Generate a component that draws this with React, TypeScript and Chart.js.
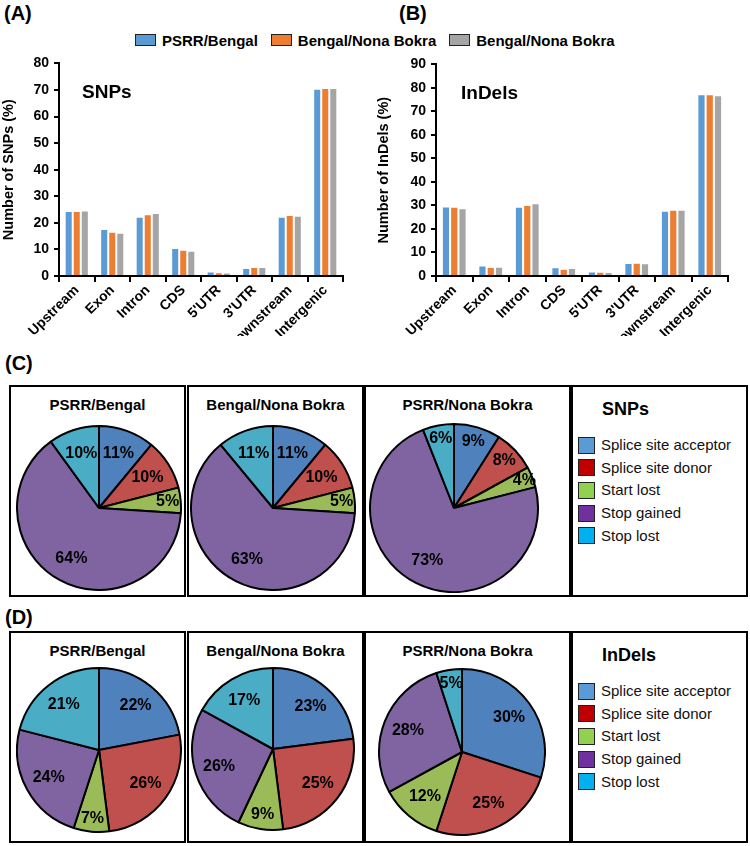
import React, { useEffect, useRef } from 'react';
import { Chart, registerables } from 'chart.js';
Chart.register(...registerables);

const FONT = '"Liberation Sans", Arial, Helvetica, sans-serif';

// ---- Bar chart data ----
const categories = ['Upstream', 'Exon', 'Intron', 'CDS', "5'UTR", "3'UTR", 'Downstream', 'Intergenic'];
const seriesNames = ['PSRR/Bengal', 'Bengal/Nona Bokra', 'Bengal/Nona Bokra'];
const seriesColors = ['#5B9BD5', '#ED7D31', '#A5A5A5'];

const snpPsrrBengal = [24.1, 17.3, 21.9, 10.2, 1.3, 2.6, 21.9, 70.1];
const snpBengalNona = [24.1, 16.3, 22.9, 9.5, 1.0, 3.0, 22.6, 70.4];
const snpPsrrNona = [24.3, 15.9, 23.3, 9.1, 0.9, 3.0, 22.3, 70.4];

const indelPsrrBengal = [29.1, 4.0, 29.0, 3.3, 1.5, 5.1, 27.3, 76.9];
const indelBengalNona = [29.0, 3.4, 29.8, 2.7, 1.4, 5.2, 27.7, 76.9];
const indelPsrrNona = [28.4, 3.5, 30.5, 3.0, 1.3, 5.0, 27.7, 76.5];

const snpYMax = 80;
const indelYMax = 90;

// ---- Pie chart data ----
const pieCategories = ['Splice site acceptor', 'Splice site donor', 'Start lost', 'Stop gained', 'Stop lost'];
const pieSliceColors = ['#4F81BD', '#C0504D', '#9BBB59', '#8064A2', '#4BACC6'];
const pieLegendColors = ['#5B9BD5', '#C00000', '#92D050', '#7030A0', '#00B0F0'];
const pieTitles = ['PSRR/Bengal', 'Bengal/Nona Bokra', 'PSRR/Nona Bokra'];

const snpPiePsrrBengal = [11, 10, 5, 64, 10];
const snpPieBengalNona = [11, 10, 5, 63, 11];
const snpPiePsrrNona = [9, 8, 4, 73, 6];

const indelPiePsrrBengal = [22, 26, 7, 24, 21];
const indelPieBengalNona = [23, 25, 9, 26, 17];
const indelPiePsrrNona = [30, 25, 12, 28, 5];

const pieLabelPlugin = {
  id: 'pieLabels',
  afterDatasetsDraw(chart: any) {
    const ctx = chart.ctx;
    const meta = chart.getDatasetMeta(0);
    const vals = chart.data.datasets[0].data as number[];
    ctx.save();
    ctx.font = `bold 16px ${FONT}`;
    ctx.fillStyle = '#000';
    ctx.textAlign = 'center';
    ctx.textBaseline = 'middle';
    meta.data.forEach((arc: any, i: number) => {
      const p = arc.getProps(['x', 'y', 'startAngle', 'endAngle', 'outerRadius'], true);
      const mid = (p.startAngle + p.endAngle) / 2;
      const v = vals[i];
      const f = v >= 10 ? 0.7 : v >= 8 ? 0.82 : v >= 5 ? 0.84 : 0.9;
      ctx.fillText(`${v}%`, p.x + Math.cos(mid) * p.outerRadius * f, p.y + Math.sin(mid) * p.outerRadius * f);
    });
    ctx.restore();
  },
};

function BarChart(props: {
  left: number; top: number; width: number; height: number; axisWidth: number;
  yMax: number; yTitle: string; series: number[][];
}) {
  const ref = useRef<HTMLCanvasElement>(null);
  useEffect(() => {
    const chart = new Chart(ref.current!, {
      type: 'bar',
      data: {
        labels: categories,
        datasets: props.series.map((d, i) => ({
          label: seriesNames[i],
          data: d,
          backgroundColor: seriesColors[i],
          categoryPercentage: 0.68,
          barPercentage: 0.75,
        })),
      },
      options: {
        animation: false,
        responsive: false,
        devicePixelRatio: 1,
        layout: { padding: { top: 13, right: 7, left: 0, bottom: 0 } },
        plugins: { legend: { display: false }, tooltip: { enabled: false } },
        scales: {
          x: {
            grid: { display: true, drawOnChartArea: false, tickLength: 6, color: '#000', lineWidth: 2, offset: true },
            border: { display: true, color: '#000', width: 2 },
            ticks: {
              color: '#000', font: { family: FONT, weight: 'bold', size: 14 },
              minRotation: 45, maxRotation: 45, autoSkip: false, padding: 0,
            },
            afterFit: (s: any) => { s.height = 60; },
          },
          y: {
            min: 0, max: props.yMax,
            grid: { display: true, drawOnChartArea: false, tickLength: 5, color: '#000', lineWidth: 2 },
            border: { display: true, color: '#000', width: 2 },
            ticks: { stepSize: 10, color: '#000', font: { family: FONT, weight: 'bold', size: 14 }, padding: 5 },
            title: { display: true, text: props.yTitle, color: '#000', font: { family: FONT, weight: 'bold', size: 14.5 }, padding: 0 },
            afterFit: (s: any) => { s.width = props.axisWidth; },
          },
        },
      } as any,
    });
    return () => chart.destroy();
  }, []);
  return (
    <canvas ref={ref} width={props.width} height={props.height}
      style={{ position: 'absolute', left: props.left, top: props.top, width: props.width, height: props.height }} />
  );
}

function PieChart(props: { cx: number; cy: number; r: number; values: number[] }) {
  const ref = useRef<HTMLCanvasElement>(null);
  const size = 2 * props.r + 2;
  useEffect(() => {
    const chart = new Chart(ref.current!, {
      type: 'pie',
      data: {
        labels: pieCategories,
        datasets: [{ data: props.values, backgroundColor: pieSliceColors, borderColor: '#000', borderWidth: 2 }],
      },
      options: {
        animation: false,
        responsive: false,
        devicePixelRatio: 1,
        layout: { padding: 0 },
        plugins: { legend: { display: false }, tooltip: { enabled: false } },
      } as any,
      plugins: [pieLabelPlugin],
    });
    return () => chart.destroy();
  }, []);
  return (
    <canvas ref={ref} width={size} height={size}
      style={{ position: 'absolute', left: props.cx - props.r - 1, top: props.cy - props.r - 1, width: size, height: size }} />
  );
}

const boxStyle = (left: number, top: number, width: number, height: number): React.CSSProperties => ({
  position: 'absolute', left, top, width, height, border: '2px solid #000', boxSizing: 'border-box', background: '#fff',
});

const textStyle = (left: number, top: number, size: number, bold: boolean, extra: React.CSSProperties = {}): React.CSSProperties => ({
  position: 'absolute', left, top, fontFamily: FONT, fontSize: size, fontWeight: bold ? 'bold' : 'normal',
  color: '#000', lineHeight: 1, whiteSpace: 'nowrap', ...extra,
});

function PiePanel(props: { top: number; legendTitle: string; data: number[][]; centers: { cx: number; cy: number; r: number }[] }) {
  const boxes = [
    { left: 9, width: 177 },
    { left: 187, width: 177 },
    { left: 364, width: 207 },
  ];
  return (
    <>
      {boxes.map((b, i) => (
        <div key={'b' + i} style={boxStyle(b.left, props.top, b.width, 212)}>
          <div style={{ position: 'absolute', left: 0, right: 0, top: 9, textAlign: 'center', fontFamily: FONT, fontWeight: 'bold', fontSize: 15, color: '#000', lineHeight: '17px' }}>
            {pieTitles[i]}
          </div>
        </div>
      ))}
      {props.centers.map((c, i) => (
        <PieChart key={'p' + i} cx={c.cx} cy={c.cy} r={c.r} values={props.data[i]} />
      ))}
      <div style={boxStyle(571, props.top, 177, 212)} />
      <div style={textStyle(602, props.top + 15, 18, true)}>{props.legendTitle}</div>
      {pieCategories.map((name, i) => (
        <div key={'l' + i} style={{ position: 'absolute', left: 578, top: props.top + 51 + i * 22.7, height: 18, display: 'flex', alignItems: 'center' }}>
          <div style={{ width: 17, height: 17, background: pieLegendColors[i], border: '1px solid #222', boxSizing: 'border-box', marginRight: 6 }} />
          <span style={{ fontFamily: FONT, fontSize: 15, color: '#111', lineHeight: '18px' }}>{name}</span>
        </div>
      ))}
    </>
  );
}

export default function App() {
  return (
    <div style={{ position: 'absolute', left: 0, top: 0, width: 750, height: 846, background: '#fff', overflow: 'hidden' }}>
      <div style={textStyle(4, 3, 20, true)}>(A)</div>
      <div style={textStyle(399, 3, 20, true)}>(B)</div>

      <div style={{ position: 'absolute', left: 135, top: 32, display: 'flex', alignItems: 'center', height: 16 }}>
        {seriesNames.map((n, i) => (
          <div key={i} style={{ display: 'flex', alignItems: 'center', marginRight: 13 }}>
            <div style={{ width: 21, height: 12, background: seriesColors[i], border: '1.5px solid #222', boxSizing: 'border-box', marginRight: 6 }} />
            <span style={{ fontFamily: FONT, fontWeight: 'bold', fontSize: 15, color: '#000' }}>{n}</span>
          </div>
        ))}
      </div>

      <BarChart left={0} top={50} width={350} height={286} axisWidth={59} yMax={snpYMax}
        yTitle="Number of SNPs (%)" series={[snpPsrrBengal, snpBengalNona, snpPsrrNona]} />
      <div style={textStyle(82, 82, 19, true)}>SNPs</div>

      <BarChart left={375} top={51} width={360} height={285} axisWidth={61} yMax={indelYMax}
        yTitle="Number of InDels (%)" series={[indelPsrrBengal, indelBengalNona, indelPsrrNona]} />
      <div style={textStyle(461, 83, 19, true)}>InDels</div>

      <div style={textStyle(5, 353, 20, true)}>(C)</div>
      <PiePanel top={385} legendTitle="SNPs"
        data={[snpPiePsrrBengal, snpPieBengalNona, snpPiePsrrNona]}
        centers={[{ cx: 99, cy: 508, r: 82 }, { cx: 273, cy: 508, r: 82 }, { cx: 454, cy: 508, r: 84 }]} />

      <div style={textStyle(5, 607, 20, true)}>(D)</div>
      <PiePanel top={631} legendTitle="InDels"
        data={[indelPiePsrrBengal, indelPieBengalNona, indelPiePsrrNona]}
        centers={[{ cx: 99, cy: 750, r: 82 }, { cx: 273, cy: 749, r: 81 }, { cx: 462, cy: 752, r: 83 }]} />
    </div>
  );
}
